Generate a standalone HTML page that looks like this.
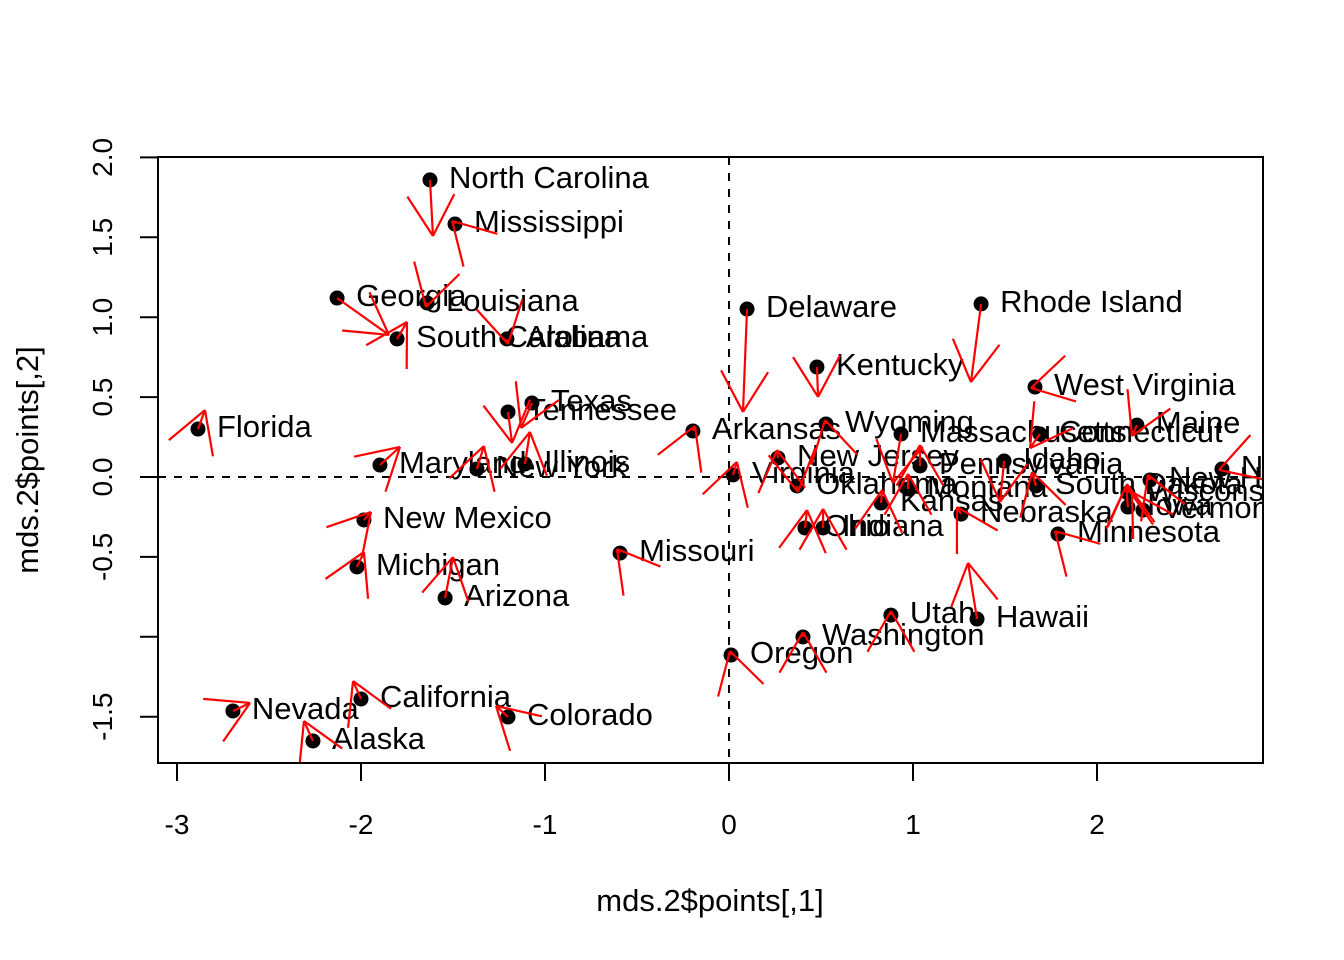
<!DOCTYPE html>
<html><head><meta charset="utf-8"><style>
html,body{margin:0;padding:0;background:#fff;}
svg{display:block;font-family:"Liberation Sans",Arial,sans-serif;}
</style></head><body>
<svg id="chart" width="1344" height="960" viewBox="0 0 1344 960" xmlns="http://www.w3.org/2000/svg">
<defs><clipPath id="plotclip"><rect x="158" y="157" width="1105" height="606"/></clipPath></defs>
<rect x="0" y="0" width="1344" height="960" fill="#fff"/>
<g id="marks" clip-path="url(#plotclip)"></g>
<rect x="158" y="157" width="1105" height="606" fill="none" stroke="#000" stroke-width="2"/>
<g id="axes"></g>
<text x="710" y="911" font-size="31" text-anchor="middle">mds.2$points[,1]</text>
<text x="0" y="0" font-size="31" text-anchor="middle" transform="translate(38,460) rotate(-90)">mds.2$points[,2]</text>
</svg>
<script>
const states = ["Alabama","Alaska","Arizona","Arkansas","California","Colorado","Connecticut","Delaware","Florida","Georgia","Hawaii","Idaho","Illinois","Indiana","Iowa","Kansas","Kentucky","Louisiana","Maine","Maryland","Massachusetts","Michigan","Minnesota","Mississippi","Missouri","Montana","Nebraska","Nevada","New Hampshire","New Jersey","New Mexico","New York","North Carolina","North Dakota","Ohio","Oklahoma","Oregon","Pennsylvania","Rhode Island","South Carolina","South Dakota","Tennessee","Texas","Utah","Vermont","Virginia","Washington","West Virginia","Wisconsin","Wyoming"];
const xVals = [-1.207,-2.261,-1.543,-0.196,-2.0,-1.201,1.690,0.098,-2.886,-2.130,1.348,1.495,-1.109,0.511,2.168,0.826,0.478,-1.641,2.217,-1.897,0.935,-2.022,1.788,-1.489,-0.592,0.973,1.261,-2.696,2.288,0.266,-1.984,-1.370,-1.625,2.679,0.413,0.370,0.011,1.038,1.370,-1.804,1.668,-1.201,-1.071,0.880,2.25,0.022,0.402,1.663,2.168,0.527];
const yVals = [0.864,-1.652,-0.757,0.288,-1.389,-1.502,0.269,1.051,0.300,1.120,-0.889,0.100,0.081,-0.319,-0.188,-0.163,0.688,1.089,0.325,0.075,0.269,-0.563,-0.357,1.583,-0.476,-0.075,-0.232,-1.464,-0.019,0.119,-0.269,0.050,1.859,0.050,-0.319,-0.056,-1.114,0.069,1.083,0.864,-0.056,0.407,0.463,-0.864,-0.207,0.013,-1.001,0.563,-0.100,0.332];
const xEnd = [-1.201,-2.310,-1.500,-0.185,-2.043,-1.266,1.636,0.076,-2.848,-1.848,1.299,1.473,-1.082,0.511,2.158,0.832,0.484,-1.647,2.190,-1.788,0.891,-1.984,1.772,-1.505,-0.609,0.973,1.239,-2.603,2.277,0.261,-1.946,-1.332,-1.609,2.663,0.424,0.375,0.005,1.038,1.315,-1.750,1.647,-1.179,-1.130,0.880,2.190,0.043,0.402,1.641,2.163,0.522];
const yEnd = [0.832,-1.527,-0.501,0.319,-1.277,-1.433,0.181,0.407,0.419,0.889,-0.538,-0.156,0.282,-0.200,-0.056,-0.081,0.501,1.064,0.257,0.188,-0.038,-0.469,-0.338,1.602,-0.451,0.019,-0.188,-1.414,0.013,0.169,-0.219,0.194,1.508,0.044,-0.207,-0.094,-1.089,0.200,0.594,0.970,0.031,0.213,0.307,-0.839,-0.094,0.094,-0.970,0.557,-0.044,0.357];
const xTicks = [-3,-2,-1,0,1,2];
const yTicks = [-1.5,-1.0,-0.5,0.0,0.5,1.0,1.5,2.0];
const yTickLabels = ["-1.5","","-0.5","0.0","0.5","1.0","1.5","2.0"];

const NS = "http://www.w3.org/2000/svg";
const sx = u => 729 + 184 * u;
const sy = v => 477 - 159.8 * v;
const marks = document.getElementById('marks');
const axes = document.getElementById('axes');
function mk(tag, attrs, parent) {
  const e = document.createElementNS(NS, tag);
  for (const k in attrs) e.setAttribute(k, attrs[k]);
  parent.appendChild(e);
  return e;
}
let l = mk('line', {x1: sx(0), y1: 157, x2: sx(0), y2: 763, stroke: '#000', 'stroke-width': 2, 'stroke-dasharray': '8,8'}, marks);


l = mk('line', {x1: 158, y1: sy(0), x2: 1263, y2: sy(0), stroke: '#000', 'stroke-width': 2, 'stroke-dasharray': '8,8'}, marks);



for (let i = 0; i < states.length; i++) {
  const c = mk('circle', {cx: sx(xVals[i]), cy: sy(yVals[i]), r: 7.5, fill: '#000'}, marks);
  
  
  const t = mk('text', {x: sx(xVals[i]) + 19, y: sy(yVals[i]) + 8, 'font-size': 31}, marks);
  t.textContent = states[i];
  
  
}
for (let i = 0; i < states.length; i++) {
  const x0 = sx(xVals[i]), y0 = sy(yVals[i]), x1 = sx(xEnd[i]), y1 = sy(yEnd[i]);
  const g = mk('g', {stroke: '#ff0000', 'stroke-width': 2.2, fill: 'none'}, marks);
  
  
  mk('line', {x1: x0, y1: y0, x2: x1, y2: y1}, g);
  const ang = Math.atan2(y1 - y0, x1 - x0);
  const L = 47;
  for (const s of [-1, 1]) {
    const a = ang + Math.PI + s * Math.PI / 6;
    mk('line', {x1: x1, y1: y1, x2: x1 + L * Math.cos(a), y2: y1 + L * Math.sin(a)}, g);
  }
}
for (const t of xTicks) {
  const tk = mk('line', {x1: sx(t), y1: 763, x2: sx(t), y2: 781, stroke: '#000', 'stroke-width': 2}, axes);
  
  
  const tl = mk('text', {x: sx(t), y: 834, 'font-size': 28, 'text-anchor': 'middle'}, axes);
  tl.textContent = String(t);
  
  
}
for (let i = 0; i < yTicks.length; i++) {
  const t = yTicks[i];
  const tk = mk('line', {x1: 140, y1: sy(t), x2: 158, y2: sy(t), stroke: '#000', 'stroke-width': 2}, axes);
  
  
  if (yTickLabels[i]) {
    const tl = mk('text', {x: 0, y: 0, 'font-size': 28, 'text-anchor': 'middle', transform: 'translate(112,' + sy(t) + ') rotate(-90)'}, axes);
    tl.textContent = yTickLabels[i];
    
    
  }
}
</script>
</body></html>
